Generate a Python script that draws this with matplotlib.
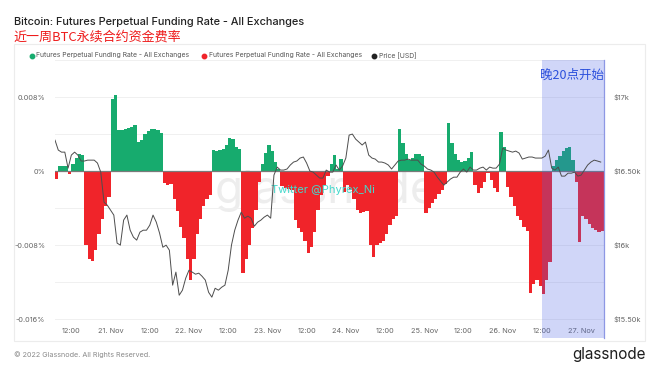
import numpy as np
import pandas as pd
import matplotlib
matplotlib.use("Agg")
import matplotlib.pyplot as plt
from matplotlib.lines import Line2D
from matplotlib.patches import Rectangle

# hourly funding rate in %, 20 Nov 07:00 -> 27 Nov 06:00
funding_rate = [
    -0.0008, 0.0005, 0.0006, 0.0005, -0.0003, 0.0008, 0.0014, 0.0018, 0.0017, -0.0080, -0.0095, -0.0097,
    -0.0085, -0.0068, -0.0052, -0.0038, -0.0028, 0.0078, 0.0082, 0.0044, 0.0044, 0.0046, 0.0047, 0.0048,
    0.0050, 0.0031, 0.0034, 0.0040, 0.0043, 0.0045, 0.0046, 0.0044, 0.0041, -0.0013, -0.0015, -0.0014,
    -0.0030, -0.0043, -0.0060, -0.0072, -0.0095, -0.0118, -0.0095, -0.0068, -0.0052, -0.0038, -0.0030, -0.0026,
    0.0023, 0.0022, 0.0023, 0.0024, 0.0028, 0.0036, 0.0035, 0.0026, 0.0024, -0.0110, -0.0095, -0.0080,
    -0.0062, -0.0042, -0.0012, 0.0008, 0.0020, 0.0028, 0.0022, 0.0010, 0.0002, -0.0016, -0.0018, -0.0019,
    -0.0020, -0.0053, -0.0062, -0.0066, -0.0075, -0.0089, -0.0082, -0.0066, -0.0042, -0.0026, -0.0015, -0.0005,
    0.0008, 0.0017, 0.0002, 0.0013, -0.0023, -0.0015, -0.0020, -0.0030, -0.0042, -0.0045, -0.0044, -0.0043,
    -0.0080, -0.0093, -0.0080, -0.0078, -0.0075, -0.0068, -0.0058, -0.0052, -0.0048, 0.0046, 0.0030, 0.0018,
    0.0012, 0.0014, 0.0019, 0.0018, 0.0016, -0.0045, -0.0040, -0.0035, -0.0030, -0.0025, -0.0020, -0.0014,
    0.0052, 0.0030, 0.0018, 0.0012, 0.0010, 0.0011, 0.0014, 0.0021, -0.0015, -0.0024, -0.0018, -0.0012,
    -0.0002, -0.0010, -0.0018, -0.0023, 0.0042, 0.0026, -0.0017, -0.0028, -0.0038, -0.0048, -0.0053, -0.0060,
    -0.0065, -0.0132, -0.0122, -0.0118, -0.0124, -0.0133, -0.0118, -0.0098, 0.0006, 0.0012, 0.0016, 0.0022,
    0.0025, 0.0026, 0.0012, -0.0012, -0.0077, -0.0048, -0.0052, -0.0057, -0.0061, -0.0064, -0.0066, -0.0065,
]

# hourly BTC price in USD
price = [
    16709, 16642, 16628, 16628, 16520, 16608, 16628, 16608, 16568, 16568, 16574, 16574,
    16574, 16554, 16493, 16290, 16270, 16236, 16203, 16014, 16000, 16169, 16203, 16101,
    16054, 16034, 16088, 16101, 16101, 16135, 16203, 16155, 16081, 15986, 16000, 15966,
    15730, 15818, 15662, 15696, 15777, 15831, 15818, 15804, 15811, 15790, 15764, 15682,
    15649, 15709, 15696, 15716, 15730, 15831, 16000, 16101, 16169, 16223, 16182, 16196,
    16182, 16128, 16155, 16169, 16189, 16203, 16182, 16473, 16527, 16507, 16507, 16514,
    16541, 16561, 16568, 16588, 16595, 16554, 16500, 16493, 16473, 16453, 16453, 16507,
    16493, 16493, 16541, 16507, 16534, 16588, 16743, 16750, 16716, 16696, 16676, 16696,
    16608, 16588, 16581, 16561, 16561, 16554, 16541, 16514, 16541, 16568, 16574, 16574,
    16581, 16574, 16574, 16574, 16547, 16534, 16514, 16507, 16493, 16459, 16432, 16405,
    16426, 16446, 16459, 16459, 16493, 16514, 16493, 16527, 16507, 16507, 16520, 16527,
    16507, 16527, 16520, 16520, 16547, 16655, 16642, 16635, 16628, 16635, 16622, 16581,
    16588, 16595, 16595, 16588, 16588, 16588, 16601, 16642, 16520, 16507, 16527, 16466,
    16466, 16486, 16486, 16493, 16466, 16473, 16507, 16541, 16561, 16574, 16568, 16561,
]

times = pd.date_range("2022-11-20 07:00", periods=len(funding_rate), freq="h")
t_end = times[-1] + pd.Timedelta(hours=1)
shade_start = pd.Timestamp("2022-11-26 12:00")

rate_ticks = [0.008, 0, -0.008, -0.016]
rate_tick_labels = ["0.008%", "0%", "-0.008%", "-0.016%"]
price_ticks = [17000, 16500, 16000, 15500]
price_tick_labels = ["$17k", "$16.50k", "$16k", "$15.50k"]

GREEN = "#17ab6e"
RED = "#f0242a"

plt.rcParams["font.family"] = ["Inter", "DejaVu Sans"]
W, H = 660, 372
fig = plt.figure(figsize=(W / 100, H / 100), dpi=100)


def px(x, y):
    return x / W, 1 - y / H


# outer frame
fig.add_artist(Rectangle(px(14, 341), (645 - 14) / W, (341 - 44) / H, transform=fig.transFigure,
                         facecolor="none", edgecolor="#ececec", lw=0.8))

left, right, top, bottom = 55, 604, 60, 322
ax = fig.add_axes([left / W, 1 - bottom / H, (right - left) / W, (bottom - top) / H])
ax.set_xlim(times[0], t_end)
r_lo, r_hi = -0.0163, 0.012
ax.set_ylim(r_lo, r_hi)

# watermark
ax.text(0.494, 0.454, "glassnode", transform=ax.transAxes, ha="center", va="baseline",
        fontsize=33, color="#ededed", zorder=0.5)

# funding rate as hourly steps, green above zero and red below
t_step = list(times) + [t_end]
r = np.array(funding_rate + [funding_rate[-1]])
ax.fill_between(t_step, np.where(r >= 0, r, 0), 0, step="post", color=GREEN, lw=0, zorder=2)
ax.fill_between(t_step, np.where(r < 0, r, 0), 0, step="post", color=RED, lw=0, zorder=2)
ax.axhline(0, color="#7a7a7a", lw=0.9, zorder=2.2)

ax.set_yticks(rate_ticks)
ax.set_yticklabels(rate_tick_labels)
ax.set_yticks([0.012, 0.004, -0.004, -0.012], minor=True)
ax.grid(True, which="both", axis="y", color="#f0f0f0", lw=0.7)
ax.set_axisbelow(True)

xt = pd.date_range("2022-11-20 12:00", "2022-11-27 00:00", freq="12h")
ax.set_xticks(xt)
ax.set_xticklabels([t.strftime("%H:%M") if t.hour == 12 else f"{t.day}. Nov" for t in xt])
ax.tick_params(axis="both", which="both", length=0, labelsize=5.3, labelcolor="#666666")
ax.tick_params(axis="y", pad=7)
ax.tick_params(axis="x", pad=4)
for s in ax.spines.values():
    s.set_visible(False)

ax.text(0.488, 0.504, "Twitter @Phyrex_Ni", transform=ax.transAxes, ha="center", va="center",
        fontsize=8, color="#43d9cc", zorder=2.5)

# highlighted window
ax.axvspan(shade_start, t_end, ymin=-0.061, ymax=1, color="#4a63e6", alpha=0.26, lw=0,
           clip_on=False, zorder=3)
ax.axvline(t_end, ymin=-0.061, ymax=1, color="#8d97e4", lw=0.9, clip_on=False, zorder=3)
ax.text(0.9995, 0.94, "晚20点开始", transform=ax.transAxes, ha="right", va="center",
        fontsize=9, color="#2b4fdc", family=["Noto Sans CJK SC", "DejaVu Sans"], zorder=4)

ax2 = ax.twinx()
ax2.set_ylim(16500 + r_lo / 0.008 * 500, 16500 + r_hi / 0.008 * 500)
ax2.plot(times, price, color="#4d4d4d", lw=0.7)
ax2.set_yticks(price_ticks)
ax2.set_yticklabels(price_tick_labels)
ax2.tick_params(axis="y", length=0, labelsize=5.3, labelcolor="#666666", pad=7)
for s in ax2.spines.values():
    s.set_visible(False)

# titles
fig.text(*px(14, 22), "Bitcoin: Futures Perpetual Funding Rate - All Exchanges", fontsize=7.9,
         color="#222222", va="center", ha="left", fontweight="medium")
fig.text(*px(13, 37), "近一周BTC永续合约资金费率", fontsize=9.4, color="#ee1c1c", va="center",
         ha="left", family=["Noto Sans CJK SC", "DejaVu Sans"])

# legend
leg_items = [(31.5, GREEN, "Futures Perpetual Funding Rate - All Exchanges"),
             (204, RED, "Futures Perpetual Funding Rate - All Exchanges"),
             (374, "#222222", "Price [USD]")]
for x0, c, label in leg_items:
    fig.add_artist(Line2D([px(x0, 55.5)[0]], [px(x0, 55.5)[1]], marker="o", markersize=3.2,
                          color=c, lw=0, transform=fig.transFigure))
    fig.text(*px(x0 + 5, 55.5), label, fontsize=4.9, color="#555555", va="center", ha="left")

# footer
fig.text(*px(14, 355), "© 2022 Glassnode. All Rights Reserved.", fontsize=5.2, color="#8a8a8a",
         va="center", ha="left")
fig.text(*px(646, 355), "glassnode", fontsize=11, color="#1e1e1e", va="center", ha="right")

fig.savefig("out.png", dpi=100)
